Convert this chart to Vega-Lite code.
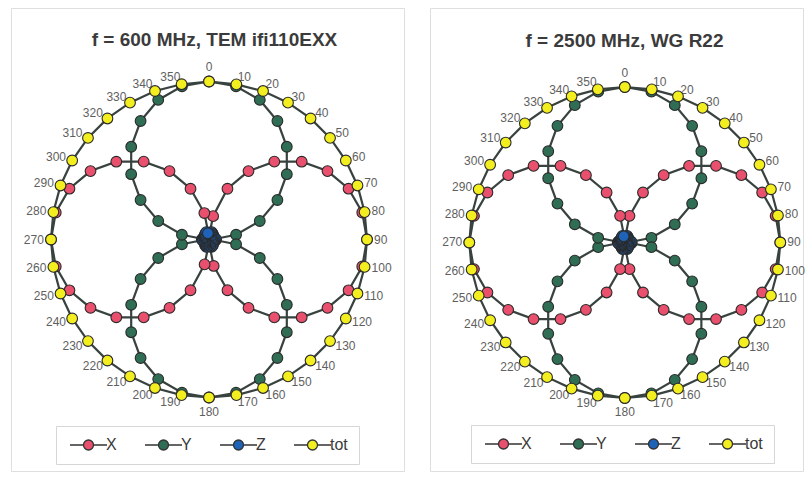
{
  "$schema": "https://vega.github.io/schema/vega-lite/v6.json",
  "background": "white",
  "padding": {"left": 10, "top": 7, "right": 0, "bottom": 0},
  "spacing": 24,
  "config": {
    "font": "Liberation Sans",
    "view": {"stroke": "#dedede", "strokeWidth": 1}
  },
  "datasets": {
    "rings": [{"r": 0.1}, {"r": 0.2}, {"r": 0.3}, {"r": 0.4}, {"r": 0.5}, {"r": 0.6}, {"r": 0.7}, {"r": 0.8}, {"r": 0.9}],
    "angles": [
      {"angle": 0}, {"angle": 10}, {"angle": 20}, {"angle": 30}, {"angle": 40}, {"angle": 50},
      {"angle": 60}, {"angle": 70}, {"angle": 80}, {"angle": 90}, {"angle": 100}, {"angle": 110},
      {"angle": 120}, {"angle": 130}, {"angle": 140}, {"angle": 150}, {"angle": 160}, {"angle": 170},
      {"angle": 180}, {"angle": 190}, {"angle": 200}, {"angle": 210}, {"angle": 220}, {"angle": 230},
      {"angle": 240}, {"angle": 250}, {"angle": 260}, {"angle": 270}, {"angle": 280}, {"angle": 290},
      {"angle": 300}, {"angle": 310}, {"angle": 320}, {"angle": 330}, {"angle": 340}, {"angle": 350}
    ],
    "c1": [
      {"angle": 0, "X": 0.02, "Y": 1.0, "Z": 0.04, "tot": 1.0},
      {"angle": 10, "X": 0.15, "Y": 0.985, "Z": 0.045, "tot": 0.997},
      {"angle": 20, "X": 0.342, "Y": 0.94, "Z": 0.05, "tot": 1.0},
      {"angle": 30, "X": 0.5, "Y": 0.866, "Z": 0.045, "tot": 1.0},
      {"angle": 40, "X": 0.643, "Y": 0.766, "Z": 0.04, "tot": 1.0},
      {"angle": 50, "X": 0.766, "Y": 0.643, "Z": 0.035, "tot": 1.0},
      {"angle": 60, "X": 0.866, "Y": 0.5, "Z": 0.03, "tot": 1.0},
      {"angle": 70, "X": 0.94, "Y": 0.342, "Z": 0.035, "tot": 1.0},
      {"angle": 80, "X": 0.985, "Y": 0.174, "Z": 0.04, "tot": 1.0},
      {"angle": 90, "X": 1.0, "Y": 0.02, "Z": 0.045, "tot": 1.0},
      {"angle": 100, "X": 0.985, "Y": 0.174, "Z": 0.04, "tot": 1.0},
      {"angle": 110, "X": 0.94, "Y": 0.342, "Z": 0.035, "tot": 1.0},
      {"angle": 120, "X": 0.866, "Y": 0.5, "Z": 0.03, "tot": 1.0},
      {"angle": 130, "X": 0.766, "Y": 0.643, "Z": 0.035, "tot": 1.0},
      {"angle": 140, "X": 0.643, "Y": 0.766, "Z": 0.04, "tot": 1.0},
      {"angle": 150, "X": 0.5, "Y": 0.866, "Z": 0.045, "tot": 1.0},
      {"angle": 160, "X": 0.342, "Y": 0.94, "Z": 0.05, "tot": 1.0},
      {"angle": 170, "X": 0.17, "Y": 0.985, "Z": 0.045, "tot": 1.0},
      {"angle": 180, "X": 0.02, "Y": 1.0, "Z": 0.04, "tot": 1.0},
      {"angle": 190, "X": 0.16, "Y": 0.985, "Z": 0.045, "tot": 1.0},
      {"angle": 200, "X": 0.342, "Y": 0.94, "Z": 0.05, "tot": 1.0},
      {"angle": 210, "X": 0.5, "Y": 0.866, "Z": 0.045, "tot": 1.0},
      {"angle": 220, "X": 0.643, "Y": 0.766, "Z": 0.04, "tot": 1.0},
      {"angle": 230, "X": 0.766, "Y": 0.643, "Z": 0.035, "tot": 1.0},
      {"angle": 240, "X": 0.866, "Y": 0.5, "Z": 0.03, "tot": 1.0},
      {"angle": 250, "X": 0.94, "Y": 0.342, "Z": 0.035, "tot": 1.0},
      {"angle": 260, "X": 0.985, "Y": 0.174, "Z": 0.04, "tot": 1.0},
      {"angle": 270, "X": 1.0, "Y": 0.02, "Z": 0.045, "tot": 1.0},
      {"angle": 280, "X": 0.985, "Y": 0.174, "Z": 0.04, "tot": 1.0},
      {"angle": 290, "X": 0.94, "Y": 0.342, "Z": 0.035, "tot": 1.0},
      {"angle": 300, "X": 0.866, "Y": 0.5, "Z": 0.03, "tot": 1.0},
      {"angle": 310, "X": 0.766, "Y": 0.643, "Z": 0.035, "tot": 1.0},
      {"angle": 320, "X": 0.643, "Y": 0.766, "Z": 0.04, "tot": 1.0},
      {"angle": 330, "X": 0.5, "Y": 0.866, "Z": 0.045, "tot": 1.0},
      {"angle": 340, "X": 0.342, "Y": 0.94, "Z": 0.05, "tot": 1.0},
      {"angle": 350, "X": 0.17, "Y": 0.985, "Z": 0.04, "tot": 0.998}
    ],
    "c2": [
      {"angle": 0, "X": 0.02, "Y": 1.0, "Z": 0.035, "tot": 1.0},
      {"angle": 10, "X": 0.174, "Y": 0.985, "Z": 0.04, "tot": 1.0},
      {"angle": 20, "X": 0.342, "Y": 0.94, "Z": 0.045, "tot": 1.0},
      {"angle": 30, "X": 0.5, "Y": 0.866, "Z": 0.04, "tot": 1.0},
      {"angle": 40, "X": 0.643, "Y": 0.766, "Z": 0.035, "tot": 1.0},
      {"angle": 50, "X": 0.766, "Y": 0.643, "Z": 0.03, "tot": 1.0},
      {"angle": 60, "X": 0.866, "Y": 0.5, "Z": 0.03, "tot": 1.0},
      {"angle": 70, "X": 0.94, "Y": 0.342, "Z": 0.035, "tot": 1.0},
      {"angle": 80, "X": 0.985, "Y": 0.174, "Z": 0.04, "tot": 1.0},
      {"angle": 90, "X": 1.0, "Y": 0.02, "Z": 0.045, "tot": 1.0},
      {"angle": 100, "X": 0.985, "Y": 0.174, "Z": 0.04, "tot": 1.0},
      {"angle": 110, "X": 0.94, "Y": 0.342, "Z": 0.035, "tot": 1.0},
      {"angle": 120, "X": 0.866, "Y": 0.5, "Z": 0.03, "tot": 1.0},
      {"angle": 130, "X": 0.766, "Y": 0.643, "Z": 0.03, "tot": 1.0},
      {"angle": 140, "X": 0.643, "Y": 0.766, "Z": 0.035, "tot": 1.0},
      {"angle": 150, "X": 0.5, "Y": 0.866, "Z": 0.04, "tot": 1.0},
      {"angle": 160, "X": 0.342, "Y": 0.94, "Z": 0.045, "tot": 1.0},
      {"angle": 170, "X": 0.174, "Y": 0.985, "Z": 0.04, "tot": 1.0},
      {"angle": 180, "X": 0.02, "Y": 1.0, "Z": 0.035, "tot": 1.0},
      {"angle": 190, "X": 0.174, "Y": 0.985, "Z": 0.04, "tot": 1.0},
      {"angle": 200, "X": 0.342, "Y": 0.94, "Z": 0.045, "tot": 1.0},
      {"angle": 210, "X": 0.5, "Y": 0.866, "Z": 0.04, "tot": 1.0},
      {"angle": 220, "X": 0.643, "Y": 0.766, "Z": 0.035, "tot": 1.0},
      {"angle": 230, "X": 0.766, "Y": 0.643, "Z": 0.03, "tot": 1.0},
      {"angle": 240, "X": 0.866, "Y": 0.5, "Z": 0.03, "tot": 1.0},
      {"angle": 250, "X": 0.94, "Y": 0.342, "Z": 0.035, "tot": 1.0},
      {"angle": 260, "X": 0.985, "Y": 0.174, "Z": 0.04, "tot": 1.0},
      {"angle": 270, "X": 1.0, "Y": 0.02, "Z": 0.045, "tot": 1.0},
      {"angle": 280, "X": 0.985, "Y": 0.174, "Z": 0.04, "tot": 1.0},
      {"angle": 290, "X": 0.94, "Y": 0.342, "Z": 0.035, "tot": 1.0},
      {"angle": 300, "X": 0.866, "Y": 0.5, "Z": 0.03, "tot": 1.0},
      {"angle": 310, "X": 0.766, "Y": 0.643, "Z": 0.03, "tot": 1.0},
      {"angle": 320, "X": 0.643, "Y": 0.766, "Z": 0.035, "tot": 1.0},
      {"angle": 330, "X": 0.5, "Y": 0.866, "Z": 0.04, "tot": 1.0},
      {"angle": 340, "X": 0.342, "Y": 0.94, "Z": 0.045, "tot": 1.0},
      {"angle": 350, "X": 0.174, "Y": 0.985, "Z": 0.04, "tot": 1.0}
    ]
  },
  "hconcat": [
    {
      "width": 393,
      "height": 463,
      "title": {"text": "f = 600 MHz, TEM ifi110EXX", "offset": -42, "dx": 7, "fontSize": 19, "fontWeight": "bold", "color": "#3b3b3b", "anchor": "middle", "frame": "group", "font": "Liberation Sans"},
      "encoding": {
        "x": {"field": "px", "type": "quantitative", "scale": {"domain": [-1.2532, 1.2342], "nice": false, "zero": false}, "axis": null},
        "y": {"field": "py", "type": "quantitative", "scale": {"domain": [-1.4652, 1.4652], "nice": false, "zero": false}, "axis": null}
      },
      "layer": [
        {
          "data": {"name": "rings"},
          "mark": {"type": "point", "shape": "circle", "filled": false, "stroke": "#c4c4c4", "strokeWidth": 0.8, "strokeDash": [2, 3], "opacity": 1},
          "encoding": {
            "x": {"datum": 0},
            "y": {"datum": 0},
            "size": {"field": "r", "type": "quantitative", "scale": {"type": "pow", "exponent": 2, "domain": [0, 1], "range": [0, 99856]}, "legend": null}
          }
        },
        {
          "data": {"name": "angles"},
          "transform": [
            {"calculate": "sin(datum.angle*PI/180)", "as": "px2"},
            {"calculate": "cos(datum.angle*PI/180)", "as": "py2"}
          ],
          "mark": {"type": "rule", "stroke": "#c6c6c6", "strokeWidth": 0.8},
          "encoding": {"x": {"datum": 0}, "y": {"datum": 0}, "x2": {"field": "px2"}, "y2": {"field": "py2"}}
        },
        {
          "data": {"name": "angles"},
          "transform": [
            {"filter": "datum.angle > 0 && datum.angle < 180"},
            {"calculate": "1.045*sin(datum.angle*PI/180)", "as": "px"},
            {"calculate": "1.045*cos(datum.angle*PI/180)", "as": "py"}
          ],
          "mark": {"type": "text", "align": "left", "baseline": "middle", "fontSize": 12, "color": "#5f5f5f"},
          "encoding": {"text": {"field": "angle", "type": "nominal"}}
        },
        {
          "data": {"name": "angles"},
          "transform": [
            {"filter": "datum.angle > 180"},
            {"calculate": "1.045*sin(datum.angle*PI/180)", "as": "px"},
            {"calculate": "1.045*cos(datum.angle*PI/180)", "as": "py"}
          ],
          "mark": {"type": "text", "align": "right", "baseline": "middle", "fontSize": 12, "color": "#5f5f5f"},
          "encoding": {"text": {"field": "angle", "type": "nominal"}}
        },
        {
          "data": {"name": "angles"},
          "transform": [
            {"filter": "datum.angle == 0 || datum.angle == 180"},
            {"calculate": "1.09*sin(datum.angle*PI/180)", "as": "px"},
            {"calculate": "1.09*cos(datum.angle*PI/180)", "as": "py"}
          ],
          "mark": {"type": "text", "align": "center", "baseline": "middle", "fontSize": 12, "color": "#5f5f5f"},
          "encoding": {"text": {"field": "angle", "type": "nominal"}}
        },
        {
          "data": {"name": "c1"},
          "transform": [
            {"fold": ["X", "Y", "Z", "tot"], "as": ["series", "value"]},
            {"calculate": "datum.value*sin(datum.angle*PI/180)", "as": "px"},
            {"calculate": "datum.value*cos(datum.angle*PI/180)", "as": "py"}
          ],
          "mark": {"type": "line", "interpolate": "linear-closed", "stroke": "#38423f", "strokeWidth": 2.2},
          "encoding": {"detail": {"field": "series", "type": "nominal"}, "order": {"field": "angle", "type": "quantitative"}}
        },
        {
          "data": {"name": "c1"},
          "transform": [
            {"fold": ["X", "Y", "Z", "tot"], "as": ["series", "value"]},
            {"calculate": "datum.value*sin(datum.angle*PI/180)", "as": "px"},
            {"calculate": "datum.value*cos(datum.angle*PI/180)", "as": "py"}
          ],
          "mark": {"type": "point", "shape": "circle", "filled": true, "size": 115, "stroke": "#2a2a2a", "strokeWidth": 1.1, "opacity": 1},
          "encoding": {
            "fill": {
              "field": "series", "type": "nominal",
              "scale": {"domain": ["X", "Y", "Z", "tot"], "range": ["#e8506d", "#2f6e55", "#1e63b8", "#f2ee1f"]},
              "legend": {
                "title": null, "orient": "none", "legendX": 45, "legendY": 418, "direction": "horizontal",
                "symbolType": "M-1,0H1.7M3.7,0H6.4M1.7,0A1,1,0,1,0,3.7,0A1,1,0,1,0,1.7,0Z",
                "symbolSize": 100, "symbolStrokeColor": "#333333", "symbolStrokeWidth": 1.3, "symbolOpacity": 1,
                "labelFontSize": 16, "labelColor": "#3a3a3a", "labelFont": "Liberation Sans", "labelOffset": 23,
                "columnPadding": 25, "padding": 11, "strokeColor": "#d6d6d6", "fillColor": "white"
              }
            },
            "order": {"field": "series", "type": "nominal"}
          }
        }
      ]
    },
    {
      "width": 373,
      "height": 463,
      "title": {"text": "f = 2500 MHz, WG R22", "offset": -43, "dx": 8, "fontSize": 19, "fontWeight": "bold", "color": "#3b3b3b", "anchor": "middle", "frame": "group", "font": "Liberation Sans"},
      "encoding": {
        "x": {"field": "px", "type": "quantitative", "scale": {"domain": [-1.2527, 1.146], "nice": false, "zero": false}, "axis": null},
        "y": {"field": "py", "type": "quantitative", "scale": {"domain": [-1.4695, 1.508], "nice": false, "zero": false}, "axis": null}
      },
      "layer": [
        {
          "data": {"name": "rings"},
          "mark": {"type": "point", "shape": "circle", "filled": false, "stroke": "#c4c4c4", "strokeWidth": 0.8, "strokeDash": [2, 3], "opacity": 1},
          "encoding": {
            "x": {"datum": 0},
            "y": {"datum": 0},
            "size": {"field": "r", "type": "quantitative", "scale": {"type": "pow", "exponent": 2, "domain": [0, 1], "range": [0, 96721]}, "legend": null}
          }
        },
        {
          "data": {"name": "angles"},
          "transform": [
            {"calculate": "sin(datum.angle*PI/180)", "as": "px2"},
            {"calculate": "cos(datum.angle*PI/180)", "as": "py2"}
          ],
          "mark": {"type": "rule", "stroke": "#c6c6c6", "strokeWidth": 0.8},
          "encoding": {"x": {"datum": 0}, "y": {"datum": 0}, "x2": {"field": "px2"}, "y2": {"field": "py2"}}
        },
        {
          "data": {"name": "angles"},
          "transform": [
            {"filter": "datum.angle > 0 && datum.angle < 180"},
            {"calculate": "1.045*sin(datum.angle*PI/180)", "as": "px"},
            {"calculate": "1.045*cos(datum.angle*PI/180)", "as": "py"}
          ],
          "mark": {"type": "text", "align": "left", "baseline": "middle", "fontSize": 12, "color": "#5f5f5f"},
          "encoding": {"text": {"field": "angle", "type": "nominal"}}
        },
        {
          "data": {"name": "angles"},
          "transform": [
            {"filter": "datum.angle > 180"},
            {"calculate": "1.045*sin(datum.angle*PI/180)", "as": "px"},
            {"calculate": "1.045*cos(datum.angle*PI/180)", "as": "py"}
          ],
          "mark": {"type": "text", "align": "right", "baseline": "middle", "fontSize": 12, "color": "#5f5f5f"},
          "encoding": {"text": {"field": "angle", "type": "nominal"}}
        },
        {
          "data": {"name": "angles"},
          "transform": [
            {"filter": "datum.angle == 0 || datum.angle == 180"},
            {"calculate": "1.09*sin(datum.angle*PI/180)", "as": "px"},
            {"calculate": "1.09*cos(datum.angle*PI/180)", "as": "py"}
          ],
          "mark": {"type": "text", "align": "center", "baseline": "middle", "fontSize": 12, "color": "#5f5f5f"},
          "encoding": {"text": {"field": "angle", "type": "nominal"}}
        },
        {
          "data": {"name": "c2"},
          "transform": [
            {"fold": ["X", "Y", "Z", "tot"], "as": ["series", "value"]},
            {"calculate": "datum.value*sin(datum.angle*PI/180)", "as": "px"},
            {"calculate": "datum.value*cos(datum.angle*PI/180)", "as": "py"}
          ],
          "mark": {"type": "line", "interpolate": "linear-closed", "stroke": "#38423f", "strokeWidth": 2.2},
          "encoding": {"detail": {"field": "series", "type": "nominal"}, "order": {"field": "angle", "type": "quantitative"}}
        },
        {
          "data": {"name": "c2"},
          "transform": [
            {"fold": ["X", "Y", "Z", "tot"], "as": ["series", "value"]},
            {"calculate": "datum.value*sin(datum.angle*PI/180)", "as": "px"},
            {"calculate": "datum.value*cos(datum.angle*PI/180)", "as": "py"}
          ],
          "mark": {"type": "point", "shape": "circle", "filled": true, "size": 115, "stroke": "#2a2a2a", "strokeWidth": 1.1, "opacity": 1},
          "encoding": {
            "fill": {
              "field": "series", "type": "nominal",
              "scale": {"domain": ["X", "Y", "Z", "tot"], "range": ["#e8506d", "#2f6e55", "#1e63b8", "#f2ee1f"]},
              "legend": {
                "title": null, "orient": "none", "legendX": 41, "legendY": 417, "direction": "horizontal",
                "symbolType": "M-1,0H1.7M3.7,0H6.4M1.7,0A1,1,0,1,0,3.7,0A1,1,0,1,0,1.7,0Z",
                "symbolSize": 100, "symbolStrokeColor": "#333333", "symbolStrokeWidth": 1.3, "symbolOpacity": 1,
                "labelFontSize": 16, "labelColor": "#3a3a3a", "labelFont": "Liberation Sans", "labelOffset": 23,
                "columnPadding": 25, "padding": 11, "strokeColor": "#d6d6d6", "fillColor": "white"
              }
            },
            "order": {"field": "series", "type": "nominal"}
          }
        }
      ]
    }
  ],
  "resolve": {
    "scale": {"x": "independent", "y": "independent", "fill": "independent", "size": "independent"},
    "legend": {"fill": "independent", "size": "independent"}
  }
}
